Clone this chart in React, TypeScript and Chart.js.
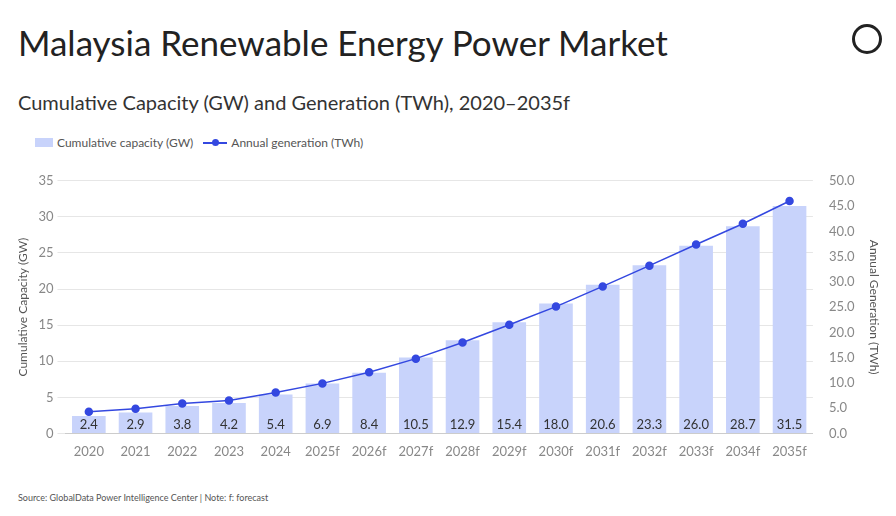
import React, { useEffect, useRef } from "react";
import { Chart, registerables } from "chart.js";
Chart.register(...registerables);

const categories = ["2020","2021","2022","2023","2024","2025f","2026f","2027f","2028f","2029f","2030f","2031f","2032f","2033f","2034f","2035f"];
const capacity = [2.4,2.9,3.8,4.2,5.4,6.9,8.4,10.5,12.9,15.4,18.0,20.6,23.3,26.0,28.7,31.5];
const generation = [4.3,4.9,5.9,6.5,8.1,9.9,12.1,14.8,18.0,21.5,25.1,29.1,33.2,37.4,41.5,46.0];

const FONT = "Lato, 'Noto Sans', sans-serif";

const labelPlugin = {
  id: "barLabels",
  afterDatasetsDraw(chart: any) {
    const ctx = chart.ctx;
    const meta = chart.getDatasetMeta(0);
    ctx.save();
    ctx.font = `13px ${FONT}`;
    ctx.fillStyle = "#333";
    ctx.textAlign = "center";
    ctx.textBaseline = "bottom";
    meta.data.forEach((bar: any, i: number) => {
      ctx.fillText(capacity[i].toFixed(1), bar.x, chart.scales.y.bottom - 2);
    });
    ctx.restore();
  },
};

export default function App() {
  const ref = useRef<HTMLCanvasElement>(null);
  useEffect(() => {
    const chart = new Chart(ref.current!, {
      data: {
        labels: categories,
        datasets: [
          { type: "bar", label: "Cumulative capacity (GW)", data: capacity, backgroundColor: "#c8d3fb", yAxisID: "y", order: 2, categoryPercentage: 0.72, barPercentage: 1 },
          { type: "line", label: "Annual generation (TWh)", data: generation, borderColor: "#3448e0", backgroundColor: "#3448e0", borderWidth: 1.5, pointRadius: 3.5, yAxisID: "y1", order: 1 },
        ],
      } as any,
      options: {
        animation: false,
        responsive: false,
        layout: { padding: { top: 8, right: 7, left: 4 } },
        plugins: { legend: { display: false }, tooltip: { enabled: false } },
        scales: {
          x: { grid: { display: false }, border: { color: "#ccc" }, ticks: { color: "#888", font: { family: FONT, size: 13 } } },
          y: { min: 0, max: 35, ticks: { stepSize: 5, color: "#888", font: { family: FONT, size: 13 }, padding: 4 }, grid: { color: "#e6e6e6" }, border: { display: false },
            title: { display: true, text: "Cumulative Capacity (GW)", color: "#555", font: { family: FONT, size: 12 } } },
          y1: { position: "right", min: 0, max: 50, ticks: { stepSize: 5, color: "#888", callback: (v: any) => Number(v).toFixed(1), font: { family: FONT, size: 13 }, padding: 8 }, grid: { display: false }, border: { display: false },
            title: { display: true, text: "Annual Generation (TWh)", color: "#555", font: { family: FONT, size: 12 } } },
        },
      } as any,
      plugins: [labelPlugin],
    });
    return () => chart.destroy();
  }, []);
  return (
    <div style={{ position: "relative", width: 896, height: 516, margin: -8, background: "#fff", fontFamily: FONT, color: "#222" }}>
      <div style={{ position: "absolute", left: 18, top: 21, fontSize: 35 }}>Malaysia Renewable Energy Power Market</div>
      <div style={{ position: "absolute", left: 18, top: 90, fontSize: 20, color: "#333" }}>Cumulative Capacity (GW) and Generation (TWh), 2020–2035f</div>
      <div style={{ position: "absolute", right: 14, top: 24, width: 30, height: 30, border: "3px solid #222", borderRadius: "50%", boxSizing: "border-box" }} />
      <div style={{ position: "absolute", left: 35, top: 135, fontSize: 12, color: "#555", display: "flex", alignItems: "center" }}>
        <span style={{ display: "inline-block", width: 18, height: 9, background: "#c8d3fb", marginRight: 4 }} />
        Cumulative capacity (GW)
        <span style={{ display: "inline-block", position: "relative", width: 24, height: 2, background: "#3448e0", margin: "0 4px 0 10px" }}>
          <span style={{ position: "absolute", left: 9, top: -3, width: 7, height: 7, borderRadius: "50%", background: "#3448e0" }} />
        </span>
        Annual generation (TWh)
      </div>
      <canvas ref={ref} width={884} height={298} style={{ position: "absolute", left: 8, top: 165 }} />
      <div style={{ position: "absolute", left: 18, top: 492, fontSize: 9, color: "#555" }}>Source: GlobalData Power Intelligence Center | Note: f: forecast</div>
    </div>
  );
}
